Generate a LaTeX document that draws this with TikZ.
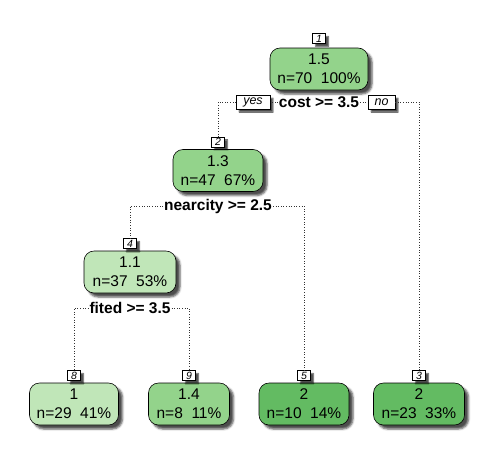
\documentclass[tikz,border=0pt]{standalone}
\usepackage{fontspec}
\setmainfont{Liberation Sans}
\usetikzlibrary{shadows.blur}
\definecolor{glight}{HTML}{C0E6B8}
\definecolor{gmid}{HTML}{93D38B}
\definecolor{gdark}{HTML}{63BB62}
\tikzset{
  leaf/.style={draw=black, line width=0.6pt, rounded corners=10pt, align=center,
    font=\fontsize{15.5}{19}\selectfont, inner sep=0pt, minimum height=42pt,
    blur shadow={shadow xshift=4pt, shadow yshift=-4pt, shadow blur steps=4, shadow blur radius=2pt, shadow opacity=70}},
  numbox/.style={draw=black, fill=white, line width=0.5pt, font=\fontsize{10.5}{10.5}\selectfont\itshape,
    inner sep=0pt, minimum width=13pt, minimum height=10pt, anchor=south,
    blur shadow={shadow xshift=3pt, shadow yshift=-3pt, shadow blur steps=3, shadow blur radius=1pt, shadow opacity=70}},
  splitlab/.style={font=\fontsize{15.5}{15.5}\selectfont\bfseries, inner sep=1pt, fill=white},
  yn/.style={draw=black, fill=white, line width=0.5pt, font=\fontsize{12.5}{12.5}\selectfont\itshape,
    inner sep=0pt, minimum height=14pt, minimum width=34pt,
    blur shadow={shadow xshift=3pt, shadow yshift=-3pt, shadow blur steps=3, shadow blur radius=1pt, shadow opacity=70}},
  conn/.style={draw=black!80, line width=0.6pt, dotted},
}
\begin{document}
\begin{tikzpicture}[x=1pt, y=-1pt]
\useasboundingbox (0,0) rectangle (494,458);
% nodes
\node[leaf, fill=gmid, minimum width=98pt] (n1) at (319,69) {1.5\\n=70\ \ 100\%};
\node[leaf, fill=gmid, minimum width=90pt] (n2) at (218,170.5) {1.3\\n=47\ \ 67\%};
\node[leaf, fill=glight, minimum width=92pt] (n4) at (130,272) {1.1\\n=37\ \ 53\%};
\node[leaf, fill=glight, minimum width=89pt] (n8) at (74,404) {1\\n=29\ \ 41\%};
\node[leaf, fill=gmid, minimum width=81pt] (n9) at (189,404) {1.4\\n=8\ \ 11\%};
\node[leaf, fill=gdark, minimum width=90pt] (n5) at (304,404) {2\\n=10\ \ 14\%};
\node[leaf, fill=gdark, minimum width=91pt] (n3) at (419,404) {2\\n=23\ \ 33\%};
% number boxes
\node[numbox] (l1) at ([yshift=4pt]n1.north) {1};
\node[numbox] (l2) at ([yshift=2pt]n2.north) {2};
\node[numbox] (l4) at ([yshift=2pt]n4.north) {4};
\node[numbox] (l8) at ([yshift=2pt]n8.north) {8};
\node[numbox] (l9) at ([yshift=2pt]n9.north) {9};
\node[numbox] (l5) at ([yshift=2pt]n5.north) {5};
\node[numbox] (l3) at ([yshift=2pt]n3.north) {3};
% split labels
\node[splitlab] (s1) at (319,102) {cost >= 3.5};
\node[yn] (yes) at (253,102) {yes};
\node[yn, minimum width=27pt] (no) at (381.5,102) {no};
\node[splitlab] (s2) at (218,206) {nearcity >= 2.5};
\node[splitlab] (s4) at (130,308) {fited >= 3.5};
% connectors
\coordinate (c1l) at (l2.north |- s1);
\coordinate (c1r) at (l3.north |- s1);
\draw[conn] (s1.west) -- (yes.east);
\draw[conn] (s1.east) -- (no.west);
\draw[conn] (yes.west) -- (c1l) -- (l2.north);
\draw[conn] (no.east) -- (c1r) -- (l3.north);
\coordinate (c2l) at (l4.north |- s2);
\coordinate (c2r) at (l5.north |- s2);
\draw[conn] (s2.west) -- (c2l) -- (l4.north);
\draw[conn] (s2.east) -- (c2r) -- (l5.north);
\coordinate (c4l) at (l8.north |- s4);
\coordinate (c4r) at (l9.north |- s4);
\draw[conn] (s4.west) -- (c4l) -- (l8.north);
\draw[conn] (s4.east) -- (c4r) -- (l9.north);
\end{tikzpicture}
\end{document}
